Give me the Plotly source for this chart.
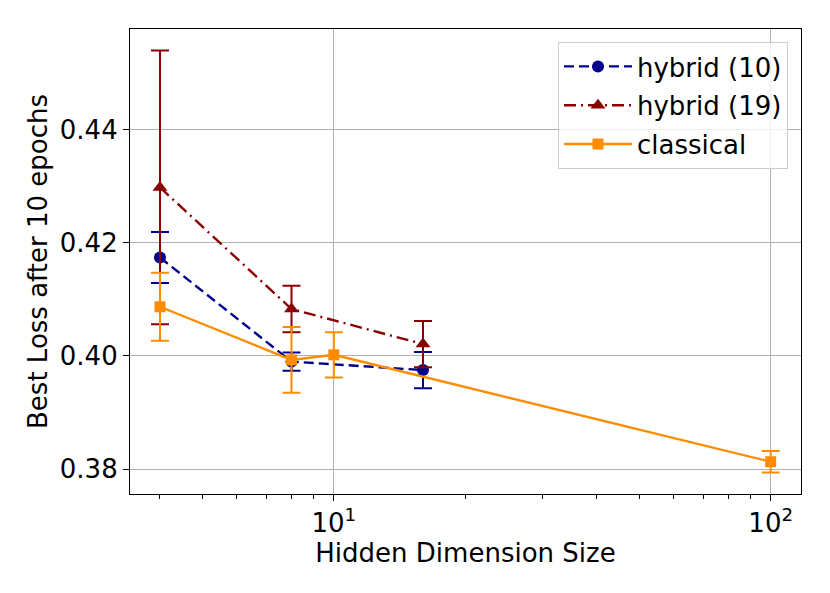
import plotly.graph_objects as go

# hidden dimension sizes
dims_hybrid = [4, 8, 16]
dims_classical = [4, 8, 10, 100]

# best loss after 10 epochs (mean, error)
loss_h10 = [0.4174, 0.3990, 0.3975]
err_h10 = [0.0045, 0.0016, 0.0032]

loss_h19 = [0.4298, 0.4083, 0.4021]
err_h19 = [0.0242, 0.0041, 0.0041]

loss_cl = [0.4087, 0.3993, 0.4002, 0.3813]
err_cl = [0.0060, 0.0058, 0.0040, 0.0019]

y_ticks = [0.38, 0.40, 0.42, 0.44]
x_ticks = [10, 100]
x_ticktext = ["10<sup>1</sup>", "10<sup>2</sup>"]
x_minor = [4, 5, 6, 7, 8, 9, 20, 30, 40, 50, 60, 70, 80, 90]

FONT = "DejaVu Sans"
FS = 26


def series(x, y, err, name, color, dash, symbol, msize):
    return go.Scatter(
        x=x, y=y, name=name, mode="lines+markers", legendgroup=name,
        line=dict(color=color, width=2.4, dash=dash),
        marker=dict(color=color, symbol=symbol, size=msize),
        error_y=dict(type="data", array=err, visible=True,
                     color=color, thickness=2, width=9),
    )


fig = go.Figure()
fig.add_trace(series(dims_hybrid, loss_h10, err_h10, "hybrid (10)",
                     "#00008b", "10px,5px", "circle", 12))
fig.add_trace(series(dims_hybrid, loss_h19, err_h19, "hybrid (19)",
                     "#8b0000", "12px,5px,2px,5px", "triangle-up", 13))
fig.add_trace(series(dims_classical, loss_cl, err_cl, "classical",
                     "#ff8c00", "solid", "square", 11))

axis_common = dict(
    showline=True, linecolor="black", linewidth=1.2, mirror=True,
    ticks="outside", ticklen=6, tickwidth=1.2, tickcolor="black",
    showgrid=True, gridcolor="#b0b0b0", gridwidth=1, zeroline=False,
    automargin=False,
    tickfont=dict(family=FONT, size=FS, color="black"),
)

# page body adds an 8px offset, so the figure is a bit smaller
fig.update_layout(
    width=822, height=585,
    margin=dict(l=122, r=29, t=21, b=99),
    paper_bgcolor="white", plot_bgcolor="white",
    font=dict(family=FONT, size=FS, color="black"),
    showlegend=True,
    legend=dict(
        x=0.9806, y=0.972, xanchor="right", yanchor="top",
        bgcolor="rgba(255,255,255,0.8)", bordercolor="#cccccc", borderwidth=1,
        font=dict(family=FONT, size=FS, color="black"),
        itemwidth=68, tracegroupgap=2,
    ),
    xaxis=dict(
        type="log", range=[0.5334, 2.0694],
        tickvals=x_ticks, ticktext=x_ticktext,
        title=dict(text="Hidden Dimension Size", standoff=4,
                   font=dict(family=FONT, size=FS)),
        minor=dict(tickvals=x_minor, ticks="outside", ticklen=3.5,
                   tickcolor="black", tickwidth=1, showgrid=False),
        **axis_common,
    ),
    yaxis=dict(
        range=[0.3756, 0.4578],
        tickvals=y_ticks, tickformat=".2f",
        title=dict(text="Best Loss after 10 epochs", standoff=4,
                   font=dict(family=FONT, size=FS)),
        **axis_common,
    ),
)

fig.write_html("out.html")
